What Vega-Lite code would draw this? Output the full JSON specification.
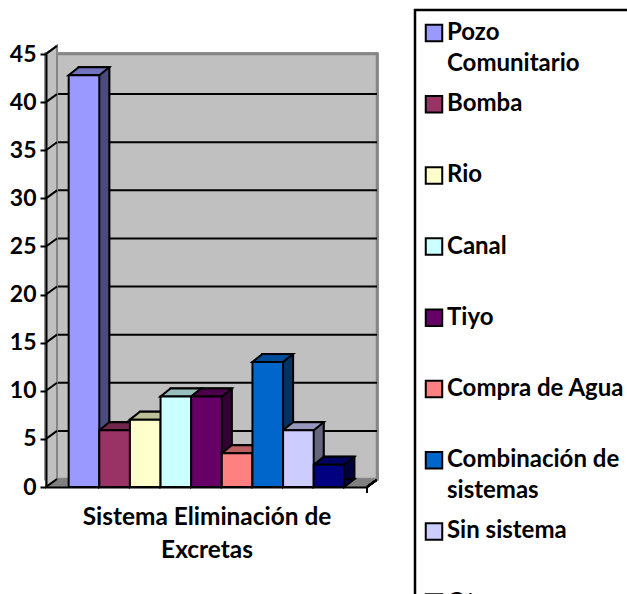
{
"$schema":"https://vega.github.io/schema/vega-lite/v6.json",
"autosize":"none",
"width":321,"height":433,
"padding":{"left":46,"right":260,"top":54,"bottom":107},
"background":"white",
"config":{"view":{"stroke":null},"font":"Lato"},
"data":{"values":[
{"sistema":"Pozo Comunitario","valor":42.8},
{"sistema":"Bomba","valor":5.9},
{"sistema":"Rio","valor":7.0},
{"sistema":"Canal","valor":9.4},
{"sistema":"Tiyo","valor":9.4},
{"sistema":"Compra de Agua","valor":3.5},
{"sistema":"Combinación de sistemas","valor":13.0},
{"sistema":"Sin sistema","valor":5.9},
{"sistema":"Otros","valor":2.3}
]},
"layer":[
{"mark":{"type":"rect","fill":"#C0C0C0","stroke":"#868686","strokeWidth":2.5,"xOffset":10,"yOffset":-8},
 "encoding":{"y":{"datum":0,"type":"quantitative","title":null,"scale":{"domain":[0,45],"nice":false},
   "axis":{"title":null,"values":[0,5,10,15,20,25,30,35,40,45],"grid":false,"domain":true,"domainColor":"black","domainWidth":2,"ticks":true,"tickColor":"black","tickWidth":2,"tickSize":6,"labelFont":"Lato","labelFontSize":23,"labelFontWeight":"bold","labelColor":"black","labelPadding":4,"zindex":1}},"y2":{"datum":45}}},
{"data":{"values":[{"nivel":5},{"nivel":10},{"nivel":15},{"nivel":20},{"nivel":25},{"nivel":30},{"nivel":35},{"nivel":40}]},
 "mark":{"type":"rule","stroke":"black","strokeWidth":2,"xOffset":10,"yOffset":-8},
 "encoding":{"y":{"field":"nivel","type":"quantitative","title":null}}},
{"mark":{"type":"point","shape":"M-160.5 0 L-149.5 -8 L-149.5 -441 L-160.5 -433 Z","size":4,"filled":true,"fill":"#C0C0C0","stroke":"#868686","strokeWidth":2,"opacity":1},
 "encoding":{"y":{"datum":0,"type":"quantitative","title":null}}},
{"mark":{"type":"point","shape":"M-160.5 0 L-149.5 -8 L170.5 -8 L160.5 0 Z","size":4,"filled":true,"fill":"#808080","stroke":null,"opacity":1},
 "encoding":{"y":{"datum":0,"type":"quantitative","title":null}}},
{"data":{"values":[{"nivel":0},{"nivel":5},{"nivel":10},{"nivel":15},{"nivel":20},{"nivel":25},{"nivel":30},{"nivel":35},{"nivel":40},{"nivel":45}]},
 "mark":{"type":"point","shape":"M-160.5 0 L-149.5 -8","size":4,"filled":false,"stroke":"black","strokeWidth":2,"opacity":1},
 "encoding":{"y":{"field":"nivel","type":"quantitative","title":null}}},
{"mark":{"type":"point","shape":"M160.5 6 L160.5 0 L170 -7","size":4,"filled":false,"stroke":"black","strokeWidth":2,"opacity":1},
 "encoding":{"y":{"datum":0,"type":"quantitative","title":null}}},
{"mark":{"type":"bar","stroke":"black","strokeWidth":2,"xOffset":10,"yOffset":-8},
 "encoding":{"x":{"field":"sistema","type":"nominal","sort":null,"scale":{"paddingInner":0,"paddingOuter":0.74},
   "title":["Sistema Eliminación de","Excretas"],
   "axis":{"title":["Sistema Eliminación de","Excretas"],"labels":false,"ticks":false,"domain":true,"domainColor":"black","domainWidth":2,"titleFont":"Lato","titleFontSize":24.4,"titleFontWeight":"bold","titleColor":"black","titlePadding":18,"titleLineHeight":33,"zindex":1}},
  "y":{"field":"valor","type":"quantitative","title":null},
  "color":{"field":"sistema","type":"nominal","sort":null,"title":null,
   "scale":{"range":["#9999FF","#993366","#FFFFCC","#CCFFFF","#660066","#FF8080","#0066CC","#CCCCFF","#000080"]},
   "legend":{"title":null,"orient":"none","legendX":369,"legendY":-44,"strokeColor":"black","padding":11,"symbolType":"square","symbolSize":272,"symbolOffset":-4,"symbolStrokeColor":"black","symbolStrokeWidth":2,"symbolOpacity":1,"labelFont":"Lato","labelFontSize":24,"labelFontWeight":"bold","labelColor":"black","labelLimit":400,"labelOffset":1,"rowPadding":15.2,"gridAlign":"all","labelBaseline":"middle",
    "labelExpr":"datum.label=='Pozo Comunitario'?['Pozo','Comunitario']:datum.label=='Combinación de sistemas'?['Combinación de','sistemas']:datum.label",
    "encoding":{"legend":{"strokeWidth":{"value":2.5}},"labels":{"lineHeight":{"value":31}}}}}}},
{"mark":{"type":"bar","fill":"black","opacity":0.5,"stroke":"black","strokeWidth":2,"xOffset":10,"yOffset":-8},
 "encoding":{"x":{"field":"sistema","type":"nominal","sort":null,"title":["Sistema Eliminación de","Excretas"]},
  "y":{"field":"valor","type":"quantitative","title":null}}},
{"mark":{"type":"point","shape":"M15.3 0 L25.3 -8 L15.3 -8 Z","size":4,"filled":true,"stroke":"black","strokeWidth":2,"opacity":1},
 "encoding":{"x":{"field":"sistema","type":"nominal","sort":null,"title":["Sistema Eliminación de","Excretas"]},
  "y":{"datum":0,"type":"quantitative","title":null},
  "color":{"field":"sistema","type":"nominal","sort":null,"title":null}}},
{"mark":{"type":"point","shape":"M15.3 0 L25.3 -8 L15.3 -8 Z","size":4,"filled":true,"fill":"black","stroke":"black","strokeWidth":2,"opacity":0.5},
 "encoding":{"x":{"field":"sistema","type":"nominal","sort":null,"title":["Sistema Eliminación de","Excretas"]},
  "y":{"datum":0,"type":"quantitative","title":null}}},
{"mark":{"type":"point","shape":"M-15.3 0 L-5.3 -8 L25.3 -8 L15.3 0 Z","size":4,"filled":true,"stroke":"black","strokeWidth":2,"opacity":1},
 "encoding":{"x":{"field":"sistema","type":"nominal","sort":null,"title":["Sistema Eliminación de","Excretas"]},
  "y":{"field":"valor","type":"quantitative","title":null},
  "color":{"field":"sistema","type":"nominal","sort":null,"title":null}}},
{"mark":{"type":"point","shape":"M-15.3 0 L-5.3 -8 L25.3 -8 L15.3 0 Z","size":4,"filled":true,"fill":"black","stroke":"black","strokeWidth":2,"opacity":0.25},
 "encoding":{"x":{"field":"sistema","type":"nominal","sort":null,"title":["Sistema Eliminación de","Excretas"]},
  "y":{"field":"valor","type":"quantitative","title":null}}},
{"mark":{"type":"bar","stroke":"black","strokeWidth":2},
 "encoding":{
  "x":{"field":"sistema","type":"nominal","sort":null,"title":["Sistema Eliminación de","Excretas"]},
  "y":{"field":"valor","type":"quantitative","title":null},
  "color":{"field":"sistema","type":"nominal","sort":null,"title":null}}}
]
}
